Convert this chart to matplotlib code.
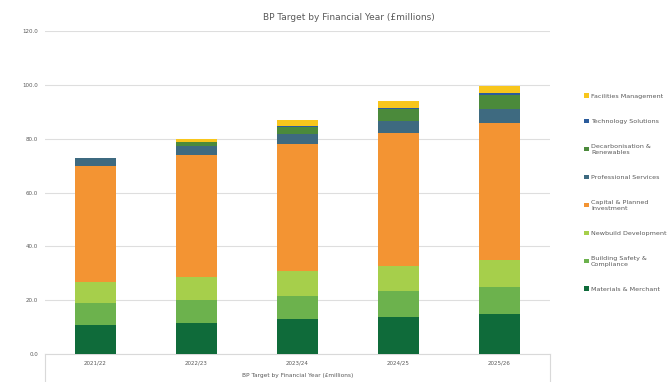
import numpy as np
import matplotlib.pyplot as plt

# data (GBP millions)
years = ["2021/22", "2022/23", "2023/24", "2024/25", "2025/26"]
materials = [10.7, 11.6, 12.9, 13.9, 14.9]
building_safety = [8.1, 8.5, 8.7, 9.5, 10.1]
newbuild = [8.1, 8.6, 9.3, 9.4, 9.9]
capital = [43.0, 45.3, 47.2, 49.2, 50.9]
professional = [3.1, 3.4, 3.7, 4.6, 5.2]
decarb = [0.0, 1.5, 2.7, 4.4, 5.2]
technology = [0.0, 0.0, 0.3, 0.4, 0.7]
facilities = [0.0, 0.9, 2.0, 2.6, 2.5]

series = [
    ("Materials & Merchant", materials, "#0f6b3a"),
    ("Building Safety &\nCompliance", building_safety, "#6cb24d"),
    ("Newbuild Development", newbuild, "#a6cf4b"),
    ("Capital & Planned\nInvestment", capital, "#f39433"),
    ("Professional Services", professional, "#3e6a80"),
    ("Decarbonisation &\nRenewables", decarb, "#4b8a3b"),
    ("Technology Solutions", technology, "#2b5c9c"),
    ("Facilities Management", facilities, "#f8c61c"),
]

grey = "#595959"

fig = plt.figure(figsize=(6.67, 3.82), dpi=100)
ax = fig.add_axes([0.0675, 0.0733, 0.757, 0.8455])

x = np.arange(len(years))
bottom = np.zeros(len(years))
bars = []
for name, vals, col in series:
    b = ax.bar(x, vals, 0.4, bottom=bottom, color=col, label=name, zorder=3)
    bars.append(b)
    bottom += np.array(vals)

ax.set_xlim(-0.5, len(years) - 0.5)
ax.set_ylim(0, 120)
ax.set_yticks(np.arange(0, 121, 20))
ax.set_yticklabels(["%.1f" % v for v in np.arange(0, 121, 20)], fontsize=4, color=grey)
ax.set_xticks(x)
ax.set_xticklabels(years, fontsize=4, color=grey)
ax.tick_params(length=0, pad=5)
ax.grid(axis="y", color="#dedede", linewidth=0.8, zorder=0)
for s in ["top", "right", "left"]:
    ax.spines[s].set_visible(False)
ax.spines["bottom"].set_color("#d9d9d9")

# little box lines under the category axis
for xx in (0, 1):
    ax.plot([xx, xx], [0, -0.09], transform=ax.transAxes, color="#d9d9d9",
            lw=0.8, clip_on=False)

ax.set_xlabel("BP Target by Financial Year (\u00a3millions)", fontsize=4.2,
              color=grey, labelpad=5)
fig.text(0.523, 0.955, "BP Target by Financial Year (\u00a3millions)",
         ha="center", va="center", fontsize=6.5, color=grey)

leg = fig.legend(handles=bars[::-1], loc="upper left", bbox_to_anchor=(0.872, 0.762),
                 frameon=False, fontsize=4.6, labelspacing=3.1, handlelength=0.7,
                 handleheight=0.7, handletextpad=0.35, borderaxespad=0)
for t in leg.get_texts():
    t.set_color(grey)

plt.savefig("out.png", dpi=100)
